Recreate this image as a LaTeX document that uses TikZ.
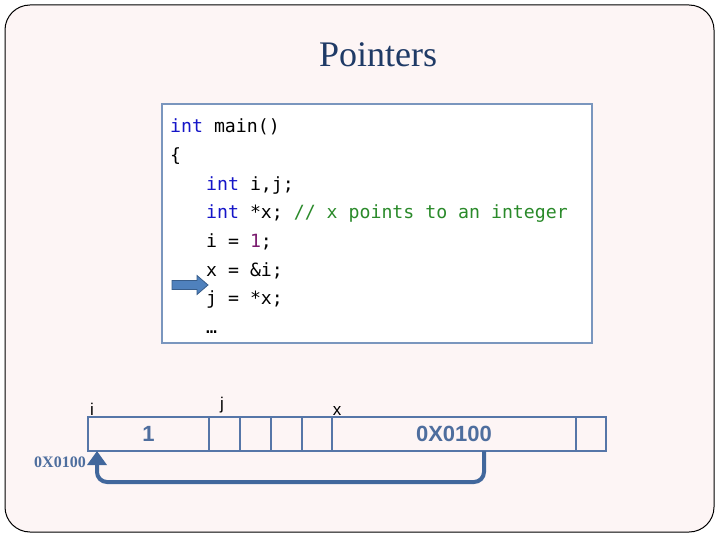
\documentclass[tikz,border=0pt]{standalone}
\usepackage{fontspec}
\setmainfont{Liberation Serif}
\newfontfamily\codefont{DejaVu Sans Mono}
\newfontfamily\arialf{Liberation Sans}
\usetikzlibrary{arrows.meta}
\definecolor{bgpink}{HTML}{FDF5F5}
\definecolor{titleblue}{HTML}{1F3A66}
\definecolor{boxblue}{HTML}{7A96BE}
\definecolor{cellblue}{HTML}{5676A8}
\definecolor{valblue}{HTML}{4E6E9E}
\definecolor{kwblue}{HTML}{1515C8}
\definecolor{cmgreen}{HTML}{2A8A2A}
\definecolor{numpurple}{HTML}{7A1A6E}
\definecolor{arrfill}{HTML}{4F81BD}
\definecolor{arrline}{HTML}{385D8A}
\definecolor{connblue}{HTML}{41679C}
\newcommand{\kw}[1]{\textcolor{kwblue}{#1}}
\newcommand{\cm}[1]{\textcolor{cmgreen}{#1}}
\newcommand{\nm}[1]{\textcolor{numpurple}{#1}}
\tikzset{
  codeline/.style={anchor=base west, inner sep=0pt, font=\codefont\fontsize{18.2}{20}\selectfont},
  cell/.style={draw=cellblue, line width=2.5pt, minimum height=34pt, inner sep=0pt, outer sep=0pt,
     text=valblue, font=\arialf\bfseries\fontsize{22}{24}\selectfont},
  varlabel/.style={anchor=base, inner sep=0pt, font=\arialf\fontsize{17}{19}\selectfont},
  conn/.style={draw=connblue, line width=4pt, rounded corners=10pt}
}
\begin{document}
\begin{tikzpicture}[x=1pt,y=-1pt]
\useasboundingbox (0,0) rectangle (720,540);
% slide background
\draw[fill=bgpink, draw=black, line width=1pt, rounded corners=25pt] (5,5) rectangle (714,532);
% title
\node[text=titleblue, font=\fontsize{36}{40}\selectfont, anchor=base] (title) at (378,67) {Pointers};
% code box
\draw[fill=white, draw=boxblue, line width=2pt] (162,104) rectangle (592,343);
\node[codeline] (l1) at (170,133) {\kw{int} main()};
\node[codeline] (l2) at (170,161.6) {\{};
\node[codeline] (l3) at (206,190.2) {\kw{int} i,j;};
\node[codeline] (l4) at (206,218.8) {\kw{int} *x; \cm{// x points to an integer}};
\node[codeline] (l5) at (206,247.4) {i = \nm{1};};
\node[codeline] (l6) at (206,276) {x = \&i;};
\node[codeline] (l7) at (206,304.6) {j = *x;};
\node[codeline] (l8) at (206,333.2) {…};
% current-line arrow
\draw[fill=arrfill, draw=arrline, line width=0.8pt]
  (172,280.5) -- (197,280.5) -- (197,275.5) -- (208,285) -- (197,294.5) -- (197,289.5) -- (172,289.5) -- cycle;
% memory cells
\node[cell, minimum width=121pt] (ci) at (148.5,434) {1};
\node[cell, minimum width=31pt] (cj1) at (224.5,434) {};
\node[cell, minimum width=31pt] (cj2) at (255.5,434) {};
\node[cell, minimum width=31pt] (cj3) at (286.5,434) {};
\node[cell, minimum width=30pt] (cj4) at (317,434) {};
\node[cell, minimum width=244pt] (cx) at (454,434) {0X0100};
\node[cell, minimum width=30pt] (ce) at (591,434) {};
% variable labels
\node[varlabel] (li) at (92,415) {i};
\node[varlabel] (lj) at (222,409) {j};
\node[varlabel] (lx) at (337,415) {x};
% address label
\node[anchor=east, inner sep=0pt, text=valblue, font=\bfseries\fontsize{16}{18}\selectfont] (addr) at (86,462) {0X0100};
% pointer connector
\coordinate (pt) at ([xshift=9pt]ci.south west);
\coordinate (ps) at ([xshift=30pt]cx.south);
\draw[conn, -{Triangle[width=19pt,length=14pt]}] (ps) -- ++(0,31) -| (pt);
\end{tikzpicture}
\end{document}
